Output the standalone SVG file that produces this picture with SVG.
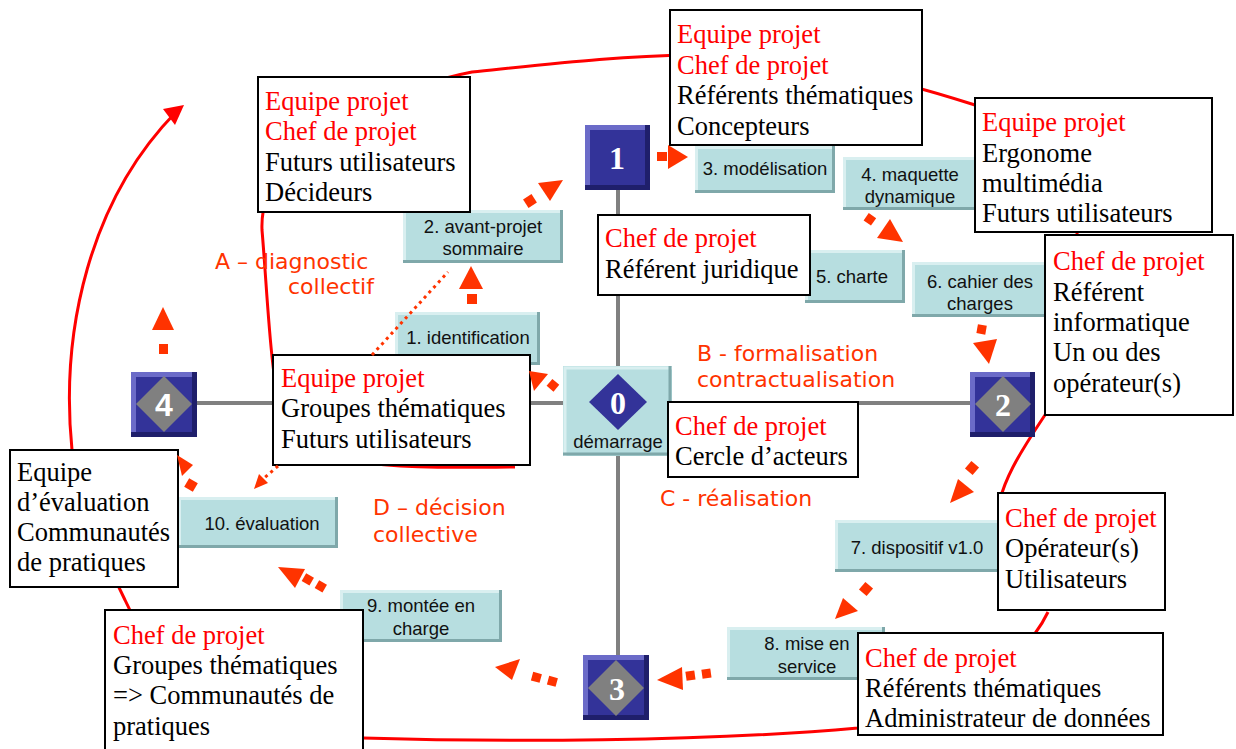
<svg xmlns="http://www.w3.org/2000/svg" width="1236" height="749" viewBox="0 0 1236 749">
<defs>
<style>
.bg{fill:#fff}
.grid{stroke:#808080;stroke-width:4;fill:none}
.spiral{stroke:#ff0000;stroke-width:3;fill:none}
.cy{fill:#b7dee0}
.cyl{stroke:#d9eff0;stroke-width:3;fill:none}
.cyd{stroke:#7fa8aa;stroke-width:3;fill:none}
.sq{fill:#333399}
.sql{stroke:#6b6bc8;stroke-width:5;fill:none}
.sqd{stroke:#1f1f6b;stroke-width:5;fill:none}
.dia{fill:#808080}
.dia0{fill:#333399}
.num{font-family:"Liberation Serif",serif;font-weight:bold;font-size:32px;fill:#fff;text-anchor:middle}
.ct{font-family:"Liberation Sans",Arial,sans-serif;font-size:18.5px;fill:#111;text-anchor:middle}
.wb{fill:#fff;stroke:#000;stroke-width:2}
.st{font-family:"Liberation Serif","Times New Roman",serif;font-size:26.5px;fill:#000}
.rd{fill:#ff0000}
.ph{font-family:"DejaVu Sans",Verdana,sans-serif;font-size:22px;fill:#ff3300}
.ar{fill:#ff3300}
.dot{stroke:#ff3300;stroke-width:3;fill:none;stroke-dasharray:3 4}
</style>
</defs>
<rect class="bg" x="0" y="0" width="1236" height="749"/>

<g id="connectors">
<line class="grid" x1="618" y1="190" x2="618" y2="655"/>
<line class="grid" x1="197" y1="403" x2="970" y2="403"/>
<path class="spiral" d="M515,467 C420,468 305,470 285,430 C270,380 268,300 262,230 C258,130 420,82 472,72 C560,63 620,56 690,55 C800,55 880,75 975,105 C1100,150 1105,330 1043,418 C1015,460 1005,480 1000,500 M1048,612 C1030,650 980,700 858,728 C700,742 500,742 363,738 C250,735 160,680 125,600 C100,550 80,500 72,450 C60,330 90,200 176,112"/>
<polygon class="rd" points="184,105 163,109 175,125"/>
</g>

<g id="c1"><rect class="cy" x="395" y="312" width="145" height="53"/><polyline class="cyl" points="396.5,365 396.5,313.5 540,313.5"/><polyline class="cyd" points="538.5,312 538.5,363.5 395,363.5"/><text class="ct" x="468" y="344">1. identification</text></g>
<g id="c2"><rect class="cy" x="403" y="210" width="160" height="53"/><polyline class="cyl" points="404.5,263 404.5,211.5 563,211.5"/><polyline class="cyd" points="561.5,210 561.5,261.5 403,261.5"/><text class="ct" x="483" y="233">2. avant-projet</text><text class="ct" x="483" y="255">sommaire</text></g>
<g id="c3"><rect class="cy" x="695" y="146" width="140" height="47"/><polyline class="cyl" points="696.5,193 696.5,147.5 835,147.5"/><polyline class="cyd" points="833.5,146 833.5,191.5 695,191.5"/><text class="ct" x="765" y="175">3. modélisation</text></g>
<g id="c4"><rect class="cy" x="843" y="157" width="135" height="53"/><polyline class="cyl" points="844.5,210 844.5,158.5 978,158.5"/><polyline class="cyd" points="976.5,157 976.5,208.5 843,208.5"/><text class="ct" x="910" y="181">4. maquette</text><text class="ct" x="910" y="203">dynamique</text></g>
<g id="c5"><rect class="cy" x="805" y="250" width="100" height="53"/><polyline class="cyl" points="806.5,303 806.5,251.5 905,251.5"/><polyline class="cyd" points="903.5,250 903.5,301.5 805,301.5"/><text class="ct" x="852" y="283">5. charte</text></g>
<g id="c6"><rect class="cy" x="912" y="262" width="136" height="55"/><polyline class="cyl" points="913.5,317 913.5,263.5 1048,263.5"/><polyline class="cyd" points="1046.5,262 1046.5,315.5 912,315.5"/><text class="ct" x="980" y="288">6. cahier des</text><text class="ct" x="980" y="310">charges</text></g>
<g id="c7"><rect class="cy" x="835" y="520" width="165" height="52"/><polyline class="cyl" points="836.5,572 836.5,521.5 1000,521.5"/><polyline class="cyd" points="998.5,520 998.5,570.5 835,570.5"/><text class="ct" x="917" y="554">7. dispositif v1.0</text></g>
<g id="c8"><rect class="cy" x="727" y="627" width="158" height="53"/><polyline class="cyl" points="728.5,680 728.5,628.5 885,628.5"/><polyline class="cyd" points="883.5,627 883.5,678.5 727,678.5"/><text class="ct" x="807" y="650">8. mise en</text><text class="ct" x="807" y="673">service</text></g>
<g id="c9"><rect class="cy" x="340" y="590" width="162" height="52"/><polyline class="cyl" points="341.5,642 341.5,591.5 502,591.5"/><polyline class="cyd" points="500.5,590 500.5,640.5 340,640.5"/><text class="ct" x="421" y="612">9. montée en</text><text class="ct" x="421" y="635">charge</text></g>
<g id="c10"><rect class="cy" x="178" y="497" width="160" height="51"/><polyline class="cyl" points="179.5,548 179.5,498.5 338,498.5"/><polyline class="cyd" points="336.5,497 336.5,546.5 178,546.5"/><text class="ct" x="262" y="530">10. évaluation</text></g>

<g id="s0"><rect class="cy" x="563" y="366" width="109" height="90"/><polyline class="cyl" points="565,456 565,368 672,368"/><polyline class="cyd" points="670,366 670,454 563,454"/><polygon class="dia0" points="618,374 647,402 618,430 589,402"/><text class="num" x="618" y="414">0</text><text class="ct" x="618" y="448">démarrage</text></g>
<g id="s1"><rect class="sq" x="585" y="125" width="65" height="65"/><polyline class="sql" points="587.5,190 587.5,127.5 650,127.5"/><polyline class="sqd" points="647.5,125 647.5,187.5 585,187.5"/><text class="num" x="617" y="169">1</text></g>
<g id="s2"><rect class="sq" x="970" y="372" width="65" height="65"/><polyline class="sql" points="972.5,437 972.5,374.5 1035,374.5"/><polyline class="sqd" points="1032.5,372 1032.5,434.5 970,434.5"/><polygon class="dia" points="1003,376 1031,404 1003,432 975,404"/><text class="num" x="1003" y="416">2</text></g>
<g id="s3"><rect class="sq" x="583" y="655" width="66" height="65"/><polyline class="sql" points="585.5,720 585.5,657.5 649,657.5"/><polyline class="sqd" points="646.5,655 646.5,717.5 583,717.5"/><polygon class="dia" points="616,660 644,688 616,716 588,688"/><text class="num" x="617" y="700">3</text></g>
<g id="s4"><rect class="sq" x="131" y="372" width="66" height="65"/><polyline class="sql" points="133.5,437 133.5,374.5 197,374.5"/><polyline class="sqd" points="194.5,372 194.5,434.5 131,434.5"/><polygon class="dia" points="164,376 192,404 164,432 136,404"/><text class="num" x="164" y="416" style="font-family:'Liberation Sans',sans-serif">4</text></g>

<g id="b1"><rect class="wb" x="258" y="77" width="212" height="135"/><text class="st rd" x="265" y="110">Equipe projet</text><text class="st rd" x="265" y="140">Chef de projet</text><text class="st" x="265" y="171">Futurs utilisateurs</text><text class="st" x="265" y="201">Décideurs</text></g>
<g id="b2"><rect class="wb" x="670" y="10" width="252" height="135"/><text class="st rd" x="677" y="43">Equipe projet</text><text class="st rd" x="677" y="74">Chef de projet</text><text class="st" x="677" y="104">Référents thématiques</text><text class="st" x="677" y="135">Concepteurs</text></g>
<g id="b3"><rect class="wb" x="975" y="98" width="237" height="134"/><text class="st rd" x="982" y="131">Equipe projet</text><text class="st" x="982" y="162">Ergonome</text><text class="st" x="982" y="192">multimédia</text><text class="st" x="982" y="222">Futurs utilisateurs</text></g>
<g id="b4"><rect class="wb" x="598" y="215" width="212" height="80"/><text class="st rd" x="605" y="247">Chef de projet</text><text class="st" x="605" y="278">Référent juridique</text></g>
<g id="b5"><rect class="wb" x="1045" y="235" width="188" height="180"/><text class="st rd" x="1053" y="270">Chef de projet</text><text class="st" x="1053" y="301">Référent</text><text class="st" x="1053" y="331">informatique</text><text class="st" x="1053" y="361">Un ou des</text><text class="st" x="1053" y="392">opérateur(s)</text></g>
<g id="b6"><rect class="wb" x="273" y="355" width="257" height="110"/><text class="st rd" x="281" y="387">Equipe projet</text><text class="st" x="281" y="417">Groupes thématiques</text><text class="st" x="281" y="448">Futurs utilisateurs</text></g>
<g id="b7"><rect class="wb" x="668" y="402" width="190" height="75"/><text class="st rd" x="675" y="435">Chef de projet</text><text class="st" x="675" y="465">Cercle d’acteurs</text></g>
<g id="b8"><rect class="wb" x="10" y="450" width="168" height="137"/><text class="st" x="17" y="481">Equipe</text><text class="st" x="17" y="511">d’évaluation</text><text class="st" x="17" y="541">Communautés</text><text class="st" x="17" y="571">de pratiques</text></g>
<g id="b9"><rect class="wb" x="998" y="493" width="167" height="117"/><text class="st rd" x="1005" y="527">Chef de projet</text><text class="st" x="1005" y="557">Opérateur(s)</text><text class="st" x="1005" y="588">Utilisateurs</text></g>
<g id="b10"><rect class="wb" x="858" y="633" width="305" height="102"/><text class="st rd" x="865" y="667">Chef de projet</text><text class="st" x="865" y="697">Référents thématiques</text><text class="st" x="865" y="727">Administrateur de données</text></g>
<g id="b11"><rect class="wb" x="105" y="610" width="258" height="145"/><text class="st rd" x="113" y="644">Chef de projet</text><text class="st" x="113" y="674">Groupes thématiques</text><text class="st" x="113" y="704">=&gt; Communautés de</text><text class="st" x="113" y="735">pratiques</text></g>

<g id="arrows">
<rect class="ar" x="467" y="294" width="10" height="10"/><polygon class="ar" points="471,266 459,289 483,289"/>
<rect class="ar" x="525" y="196" width="10" height="10" transform="rotate(-33 530 201)"/><polygon class="ar" points="563,180 538,183 550,201"/>
<rect class="ar" x="657" y="152" width="10" height="9"/><polygon class="ar" points="688,157 668,145 668,169"/>
<rect class="ar" x="865" y="215" width="9" height="9" transform="rotate(35 870 220)"/><polygon class="ar" points="903,242 877,238 890,219"/>
<rect class="ar" x="977" y="325" width="9" height="9" transform="rotate(10 982 330)"/><polygon class="ar" points="989,364 973,343 997,339"/>
<rect class="ar" x="967" y="463" width="10" height="10" transform="rotate(40 972 468)"/><polygon class="ar" points="950,503 958,479 974,492"/>
<rect class="ar" x="861" y="584" width="10" height="10" transform="rotate(40 866 589)"/><polygon class="ar" points="835,619 843,598 858,611"/>
<rect class="ar" x="686" y="671" width="9" height="9" transform="rotate(-8 691 676)"/><rect class="ar" x="702" y="669" width="9" height="9" transform="rotate(-8 707 674)"/><polygon class="ar" points="657,680 682,667 683,690"/>
<rect class="ar" x="532" y="673" width="9" height="9" transform="rotate(15 537 677)"/><rect class="ar" x="548" y="677" width="9" height="9" transform="rotate(15 553 681)"/><polygon class="ar" points="495,667 520,659 512,680"/>
<rect class="ar" x="303" y="575" width="9" height="9" transform="rotate(30 308 580)"/><rect class="ar" x="316" y="582" width="9" height="9" transform="rotate(30 321 587)"/><polygon class="ar" points="278,567 305,569 295,588"/>
<rect class="ar" x="186" y="480" width="10" height="10" transform="rotate(30 191 485)"/><polygon class="ar" points="177,455 193,465 182,476"/>
<rect class="ar" x="159" y="344" width="9" height="10"/><polygon class="ar" points="163,307 152,330 174,330"/>
<rect class="ar" x="548" y="381" width="9" height="9" transform="rotate(40 553 386)"/><polygon class="ar" points="529,371 548,374 534,391"/>
<line class="dot" x1="372" y1="355" x2="448" y2="272"/>
<line class="dot" x1="278" y1="466" x2="262" y2="480"/><polygon class="ar" points="254,489 259,474 268,483"/>
</g>

<g id="phases">
<text class="ph" x="215" y="269">A – diagnostic</text><text class="ph" x="288" y="294">collectif</text>
<text class="ph" x="697" y="361">B - formalisation</text><text class="ph" x="697" y="387">contractualisation</text>
<text class="ph" x="660" y="506">C - réalisation</text>
<text class="ph" x="373" y="515">D – décision</text><text class="ph" x="373" y="542">collective</text>
</g>
</svg>
